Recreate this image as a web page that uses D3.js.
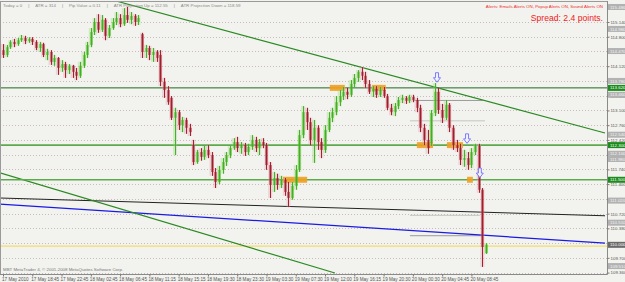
<!DOCTYPE html>
<html>
<head>
<meta charset="utf-8">
<script src="https://cdn.jsdelivr.net/npm/d3@7"></script>
<style>
  html, body { margin: 0; padding: 0; background: #f2f2ee; }
  svg { display: block; font-family: "Liberation Sans", Arial, sans-serif; }
</style>
</head>
<body>
<div id="chart"></div>
<script>
// 30-min candles, [open, high, low, close]
const bars = [
  [114.49,114.63,114.31,114.38],[114.38,114.61,114.33,114.56],[114.56,114.72,114.52,114.68],[114.68,114.75,114.56,114.63],
  [114.63,114.77,114.59,114.72],[114.72,114.84,114.68,114.77],[114.77,114.82,114.63,114.70],[114.70,114.79,114.66,114.75],
  [114.75,114.79,114.61,114.68],[114.68,114.72,114.49,114.54],[114.54,114.68,114.45,114.63],[114.63,114.66,114.33,114.38],
  [114.38,114.52,114.26,114.45],[114.45,114.49,114.15,114.22],[114.22,114.38,114.13,114.31],[114.31,114.33,113.92,114.08],
  [114.08,114.26,113.99,114.17],[114.17,114.22,113.85,114.03],[114.03,114.17,113.94,114.13],[114.13,114.15,113.85,113.99],
  [113.99,114.08,113.80,113.90],[113.90,114.22,113.85,114.13],[114.13,114.45,114.08,114.38],[114.38,114.68,114.31,114.61],
  [114.61,115.00,114.56,114.91],[114.91,115.23,114.84,115.14],[115.14,115.32,114.89,114.96],[114.96,115.30,114.91,115.19],
  [115.19,115.23,114.72,114.82],[114.82,115.07,114.77,115.00],[115.00,115.23,114.96,115.14],[115.14,115.37,115.07,115.23],
  [115.23,115.32,115.02,115.09],[115.09,115.46,115.05,115.30],[115.30,115.49,115.12,115.19],[115.19,115.37,115.09,115.28],
  [115.28,115.32,115.05,115.14],[115.14,115.30,115.07,115.23],[114.86,114.89,114.31,114.45],[114.45,114.61,114.31,114.54],
  [114.54,114.59,114.26,114.38],[114.38,114.54,114.22,114.45],[114.45,114.49,114.22,114.31],[114.38,114.49,113.66,113.76],
  [113.76,113.85,113.39,113.57],[113.57,113.66,113.23,113.29],[113.39,113.43,112.88,112.93],[112.93,113.16,112.07,113.06],
  [113.06,113.11,112.65,112.76],[112.76,112.95,112.60,112.88],[112.88,112.93,112.56,112.70],[112.70,112.79,112.51,112.60],
  [112.30,112.42,111.84,111.91],[111.91,112.19,111.87,112.14],[112.14,112.23,111.94,112.03],[112.03,112.28,111.96,112.19],
  [112.19,112.30,112.00,112.07],[112.07,112.14,111.59,111.68],[111.68,111.77,111.31,111.45],[111.45,111.82,111.40,111.73],
  [111.73,112.00,111.64,111.91],[111.91,112.14,111.82,112.07],[112.07,112.28,112.00,112.23],[112.23,112.46,112.19,112.37],
  [112.37,112.49,112.14,112.23],[112.23,112.37,112.10,112.30],[112.30,112.35,112.05,112.14],[112.14,112.33,112.07,112.26],
  [112.26,112.53,112.19,112.42],[112.42,112.49,112.14,112.23],[112.23,112.44,112.07,112.37],[112.37,112.46,112.23,112.30],
  [112.30,112.35,111.73,111.84],[111.84,111.91,111.08,111.38],[111.38,111.68,111.22,111.54],[111.54,111.64,111.27,111.38],
  [111.38,111.59,111.31,111.50],[111.50,111.54,111.13,111.22],[111.22,111.45,110.87,111.08],[111.08,111.45,111.04,111.36],
  [111.36,111.84,111.27,111.73],[111.73,112.65,111.68,112.53],[112.53,113.20,112.46,113.06],[113.06,113.16,112.65,112.83],
  [112.83,112.93,112.30,112.42],[112.42,112.88,111.89,112.70],[112.70,112.76,112.19,112.37],[112.37,112.46,112.00,112.19],
  [112.19,112.76,112.12,112.65],[112.65,113.06,112.60,112.93],[112.93,113.16,112.83,113.06],[113.06,113.43,112.99,113.29],
  [113.29,113.57,113.20,113.43],[113.43,113.64,113.34,113.53],[113.53,113.62,113.36,113.46],[113.46,113.80,113.41,113.71],
  [113.71,113.94,113.64,113.85],[113.85,114.03,113.76,113.99],[113.99,114.10,113.80,113.90],[113.90,113.99,113.62,113.71],
  [113.71,113.80,113.48,113.53],[113.53,113.66,113.41,113.60],[113.60,113.66,113.39,113.46],[113.46,113.64,113.41,113.57],
  [113.57,113.64,113.39,113.43],[113.43,113.48,113.11,113.16],[113.16,113.25,112.99,113.06],[113.06,113.27,112.97,113.20],
  [113.20,113.41,113.13,113.34],[113.34,113.46,113.27,113.39],[113.39,113.43,113.25,113.32],[113.32,113.46,113.27,113.41],
  [113.41,113.46,113.29,113.34],[113.34,113.39,113.06,113.16],[113.16,113.23,112.60,112.70],[112.70,112.79,112.30,112.42],
  [112.42,112.65,112.10,112.23],[112.35,113.11,112.28,113.04],[113.04,113.73,112.97,113.53],[113.53,113.62,113.02,113.11],
  [113.11,113.25,112.81,112.93],[112.93,113.34,112.88,113.23],[113.23,113.27,112.60,112.70],[112.70,112.76,112.19,112.30],
  [112.30,112.42,112.14,112.23],[112.23,112.33,111.84,111.96],[111.96,112.19,111.80,112.00],[112.00,112.14,111.73,111.84],
  [111.84,112.23,111.77,112.14],[112.14,112.33,112.07,112.28],[112.28,112.33,111.20,111.27],[111.27,111.31,109.49,109.95],
  [109.81,110.04,109.79,110.00]
];

const timeLabels = ['17 May 2010','17 May 18:45','17 May 22:45','18 May 02:45','18 May 06:45','18 May 11:15',
  '18 May 15:15','18 May 19:30','18 May 23:30','19 May 03:30','19 May 07:30','19 May 12:00','19 May 16:15',
  '19 May 20:30','20 May 00:30','20 May 04:45','20 May 08:45'];
const barsPerLabel = 8;

const priceTicks = [115.14,114.80,114.46,114.12,113.78,113.44,113.10,112.76,112.42,112.08,111.74,111.40,
  111.06,110.72,110.38,110.04,109.70,109.36];

// trend lines: [[barIndex, price], [barIndex, price]]
const trendUpper = [[30.6, 115.63], [164.5, 112.58]];
const trendLower = [[-0.82, 111.66], [90.7, 109.35]];
const blackLine  = [[-0.82, 111.08], [164.5, 110.67]];
const blueLine   = [[-0.82, 110.94], [164.5, 110.04]];

const levelDark   = [113.62];
const levelGreen  = [112.30, 111.50];
const levelYellow = [109.97];

// short levels: [fromBar, toBar, price]
const shortLevels = [[112, 131.1, 113.33], [111.2, 131.7, 112.86], [111.2, 130.3, 110.68], [111.2, 131.1, 110.21]];
// orange zones: [fromBar, toBar, price]
const zones = [[76.5, 83.1, 111.50], [89.3, 93.4, 113.62], [100.8, 104.6, 113.62],
  [113.1, 117.5, 112.30], [121.3, 125.7, 112.30], [126.8, 128.4, 111.50]];
// signal arrows: [bar, price at arrow top]
const arrows = [[118.6, 113.97], [126.8, 112.56], [130.3, 111.77]];

const markersGray  = [115.486, 114.980, 114.470, 113.780, 113.460, 112.540, 112.100, 111.980, 111.020, 110.510, 109.510];
const markersGreen = [113.620, 112.300, 111.500];
const markerBid    = 110.000;

const headerItems = ['Today = 0', 'ATR = 314', 'Pip Value = 0.11', 'ATR Projection Up = 112.55', 'ATR Projection Down = 118.59'];
const alertText  = 'Alerts:  Emails Alerts ON,  Popup Alerts ON,  Sound Alerts ON';
const spreadText = 'Spread: 2.4 points.';
const footerText = 'MBT MetaTrader 4, \u00a9 2001-2008 MetaQuotes Software Corp.';

const W = 625, H = 282;
const plotR = 607, plotB = 274, plotT = 1;
const narrow = '"Liberation Sans Narrow", "Liberation Sans", Arial, sans-serif';

const svg = d3.select('#chart').append('svg')
  .attr('width', W).attr('height', H);

svg.append('rect').attr('width', W).attr('height', H).attr('fill', '#f2f2ee');

const x = d3.scaleLinear().domain([-0.82, 164.5]).range([0, 605]);
const y = d3.scaleLinear().domain([109.327, 115.578]).range([plotB, 3]);

const plot = svg.append('g');
plot.append('clipPath').attr('id', 'clip')
  .append('rect').attr('x', 0).attr('y', plotT).attr('width', plotR).attr('height', plotB - plotT);
const g = plot.append('g').attr('clip-path', 'url(#clip)');

// dotted grid
g.selectAll('.grid')
  .data(priceTicks)
  .join('line')
  .attr('x1', 0).attr('x2', plotR)
  .attr('y1', d => Math.round(y(d)) + 0.5).attr('y2', d => Math.round(y(d)) + 0.5)
  .attr('stroke', '#c9bcbc')
  .attr('stroke-dasharray', '1,2');

const lineGen = d3.line().x(d => x(d[0])).y(d => y(d[1]));

// horizontal levels
g.selectAll('.lvl-y').data(levelYellow).join('line')
  .attr('x1', 0).attr('x2', plotR).attr('y1', d => y(d)).attr('y2', d => y(d))
  .attr('stroke', '#f2dc6a').attr('stroke-width', 1.2);

g.selectAll('.short').data(shortLevels).join('line')
  .attr('x1', d => x(d[0])).attr('x2', d => x(d[1]))
  .attr('y1', d => y(d[2])).attr('y2', d => y(d[2]))
  .attr('stroke', (d, i) => i === 0 || i === 3 ? '#9a9a9a' : '#c4c4c4')
  .attr('stroke-width', 1);

// sloped lines
g.append('path').attr('d', lineGen(blackLine)).attr('stroke', '#222').attr('stroke-width', 1).attr('fill', 'none');
g.append('path').attr('d', lineGen(blueLine)).attr('stroke', '#1a1ae6').attr('stroke-width', 1.2).attr('fill', 'none');
g.append('path').attr('d', lineGen(trendUpper)).attr('stroke', '#2a8a22').attr('stroke-width', 1.2).attr('fill', 'none');
g.append('path').attr('d', lineGen(trendLower)).attr('stroke', '#2a8a22').attr('stroke-width', 1.2).attr('fill', 'none');

g.selectAll('.lvl-d').data(levelDark).join('line')
  .attr('x1', 0).attr('x2', plotR).attr('y1', d => y(d)).attr('y2', d => y(d))
  .attr('stroke', '#1f6a1f').attr('stroke-width', 1);

g.selectAll('.lvl-g').data(levelGreen).join('line')
  .attr('x1', 0).attr('x2', plotR).attr('y1', d => y(d)).attr('y2', d => y(d))
  .attr('stroke', '#5caa4c').attr('stroke-width', 1.6);

// orange zones
g.selectAll('.zone').data(zones).join('rect')
  .attr('x', d => x(d[0])).attr('width', d => x(d[1]) - x(d[0]))
  .attr('y', d => y(d[2]) - 3).attr('height', 6)
  .attr('fill', '#f0a020').attr('opacity', 0.9);

// candles
const bw = 2;
const up = d => d[3] >= d[0];
const candle = g.selectAll('.candle').data(bars).join('g');

candle.append('rect')
  .attr('x', (d, i) => x(i) - 2)
  .attr('width', 4)
  .attr('y', d => y(d[1]))
  .attr('height', d => Math.max(1, y(d[2]) - y(d[1])))
  .attr('fill', d => up(d) ? '#9ed67a' : '#e0a0a8')
  .attr('opacity', 0.35);

candle.append('line')
  .attr('x1', (d, i) => Math.round(x(i)) + 0.5).attr('x2', (d, i) => Math.round(x(i)) + 0.5)
  .attr('y1', d => y(d[1])).attr('y2', d => y(d[2]))
  .attr('stroke', d => up(d) ? '#44b22a' : '#a8202e')
  .attr('stroke-width', 1);

candle.append('rect')
  .attr('x', (d, i) => Math.round(x(i)) - bw / 2 + 0.5)
  .attr('width', bw)
  .attr('y', d => y(Math.max(d[0], d[3])))
  .attr('height', d => Math.max(1, Math.abs(y(d[0]) - y(d[3]))))
  .attr('fill', d => up(d) ? '#3fb31c' : '#a51c2c');

// arrows
g.selectAll('.arrow').data(arrows).join('path')
  .attr('transform', d => `translate(${x(d[0])},${y(d[1])})`)
  .attr('d', 'M-1.5,0 L1.5,0 L1.5,5 L3.5,5 L0,9.5 L-3.5,5 L-1.5,5 Z')
  .attr('fill', '#f2f2ff')
  .attr('stroke', '#6f6fff')
  .attr('stroke-width', 0.9);

// frame
svg.append('line').attr('x1', 0).attr('x2', plotR + 0.5).attr('y1', plotT + 0.5).attr('y2', plotT + 0.5).attr('stroke', '#9a9a9a');
svg.append('line').attr('x1', 0.5).attr('x2', 0.5).attr('y1', plotT).attr('y2', plotB).attr('stroke', '#9a9a9a');
svg.append('line').attr('x1', 0).attr('x2', plotR + 0.5).attr('y1', plotB + 0.5).attr('y2', plotB + 0.5).attr('stroke', '#8a8a8a');
svg.append('line').attr('x1', plotR + 0.5).attr('x2', plotR + 0.5).attr('y1', plotT).attr('y2', plotB + 0.5).attr('stroke', '#8a8a8a');

// price axis
const yAxis = svg.append('g')
  .attr('transform', `translate(${plotR + 0.5},0)`)
  .call(d3.axisRight(y).tickValues(priceTicks).tickSize(2).tickPadding(1).tickFormat(d3.format('.3f')));
yAxis.select('.domain').remove();
yAxis.selectAll('line').attr('stroke', '#777');
yAxis.selectAll('text').attr('font-size', 4.4).attr('fill', '#555').attr('font-family', narrow);

// axis markers
const fmt3 = d3.format('.3f');
const markers = [
  ...markersGray.map(v => ({ v, fill: '#b2b2b2', text: '#f4f4f4' })),
  ...markersGreen.map(v => ({ v, fill: '#1c8a1c', text: '#ffffff' })),
  { v: markerBid, fill: '#6a6a6a', text: '#ffffff' }
];
const mk = svg.append('g').selectAll('g').data(markers).join('g')
  .attr('transform', d => `translate(${plotR + 1},${y(d.v)})`);
mk.append('rect').attr('x', 0).attr('y', -3).attr('width', W - plotR).attr('height', 6).attr('fill', d => d.fill);
mk.append('text').attr('x', 2).attr('y', 1.6).attr('font-size', 4.4).attr('font-family', narrow)
  .attr('fill', d => d.text).text(d => fmt3(d.v));

// time axis
const labelIdx = timeLabels.map((t, i) => i * barsPerLabel);
const xAxis = svg.append('g')
  .attr('transform', `translate(0,${plotB + 0.5})`)
  .call(d3.axisBottom(x).tickValues(labelIdx).tickSize(2).tickPadding(1)
    .tickFormat((d, i) => timeLabels[i]));
xAxis.select('.domain').remove();
xAxis.selectAll('line').attr('stroke', '#777');
xAxis.selectAll('text').attr('font-size', 4.6).attr('fill', '#555')
  .attr('text-anchor', 'start').attr('dx', -1.5).attr('font-family', 'Liberation Sans, Arial');

// header texts
const header = svg.append('g').attr('font-size', 4.4).attr('fill', '#8a8a8a');
let cx = 3;
headerItems.forEach((t, i) => {
  if (i > 0) {
    header.append('text').attr('x', cx + 4).attr('y', 7).text('|');
    cx += 11;
  }
  const node = header.append('text').attr('x', cx).attr('y', 7).text(t);
  cx += node.node().getComputedTextLength() + 2;
});

svg.append('text').attr('x', 603).attr('y', 8).attr('text-anchor', 'end')
  .attr('font-size', 4.4).attr('fill', '#f03030').text(alertText);
svg.append('text').attr('x', 603).attr('y', 21).attr('text-anchor', 'end')
  .attr('font-size', 8.6).attr('fill', '#f02020').text(spreadText);
svg.append('text').attr('x', 3).attr('y', 271).attr('font-size', 4.4).attr('fill', '#777').text(footerText);
</script>
</body>
</html>
